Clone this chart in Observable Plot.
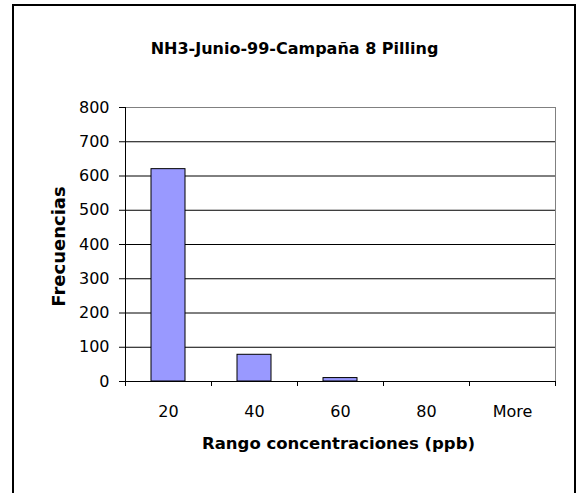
<!DOCTYPE html>
<html>
<head>
<meta charset="utf-8">
<script src="https://cdn.jsdelivr.net/npm/d3@7"></script>
<script src="https://cdn.jsdelivr.net/npm/@observablehq/plot@0.6"></script>
<style>
  html, body { margin: 0; padding: 0; background: #fff; overflow: hidden; }
  #wrap { position: relative; width: 580px; height: 493px; }
  #border { position: absolute; left: 12px; top: 4px; width: 564px; height: 600px; border: 2px solid #000; box-sizing: border-box; pointer-events: none; }
  #chart svg { display: block; }
</style>
</head>
<body>
<div id="wrap"><div id="chart"></div><div id="border"></div></div>
<script>
const title = "NH3-Junio-99-Campaña 8 Pilling";
const xLabel = "Rango concentraciones (ppb)";
const yLabel = "Frecuencias";
const categories = ["20", "40", "60", "80", "More"];
const frequencies = [620, 78, 10, 0, 0];
const yTicks = [0, 100, 200, 300, 400, 500, 600, 700, 800];
const gridValues = [100, 200, 300, 400, 500, 600, 700];

const data = categories.map((c, i) => ({cat: c, freq: frequencies[i]}));

const W = 580, H = 493, mL = 125, mR = 25, mT = 107, mB = 112;
const step = (W - mL - mR) / categories.length;
const font = "DejaVu Sans";

const chart = Plot.plot({
  width: W, height: H,
  marginLeft: mL, marginRight: mR, marginTop: mT, marginBottom: mB,
  style: {fontFamily: font, fontSize: "16px", color: "#000", background: "#fff"},
  x: {domain: categories, paddingInner: 0.6, paddingOuter: 0.3, axis: null},
  y: {domain: [0, 800], axis: null},
  marks: [
    Plot.frame({stroke: "#808080"}),
    Plot.gridY(gridValues, {stroke: "#000", strokeOpacity: 1}),
    Plot.barY(data, {x: "cat", y: "freq", fill: "#9999FF", stroke: "#000", strokeWidth: 1}),
    Plot.ruleY([0], {stroke: "#000"}),
    Plot.ruleX([categories[0]], {y1: 0, y2: 800, dx: -step / 2, stroke: "#000"}),
    Plot.axisY({ticks: yTicks, tickSize: 6, tickPadding: 10, fontSize: 16, label: null}),
    Plot.axisX({ticks: categories, tickSize: 5, tickFormat: () => "", dx: -step / 2, label: null}),
    Plot.axisX({ticks: [categories[categories.length - 1]], tickSize: 5, tickFormat: () => "", dx: step / 2, label: null}),
    Plot.axisX({ticks: categories, tickSize: 0, tickPadding: 24, fontSize: 16, label: null}),
    Plot.text([title], {frameAnchor: "top", dx: -46, dy: -65, fontWeight: "bold", fontSize: 16}),
    Plot.text([xLabel], {frameAnchor: "bottom", dx: -2, dy: 67, fontWeight: "bold", fontSize: 16.5}),
    Plot.text([yLabel], {frameAnchor: "left", textAnchor: "middle", dx: -66, dy: 2, rotate: -90, fontWeight: "bold", fontSize: 18})
  ]
});
document.getElementById("chart").appendChild(chart);
</script>
</body>
</html>
